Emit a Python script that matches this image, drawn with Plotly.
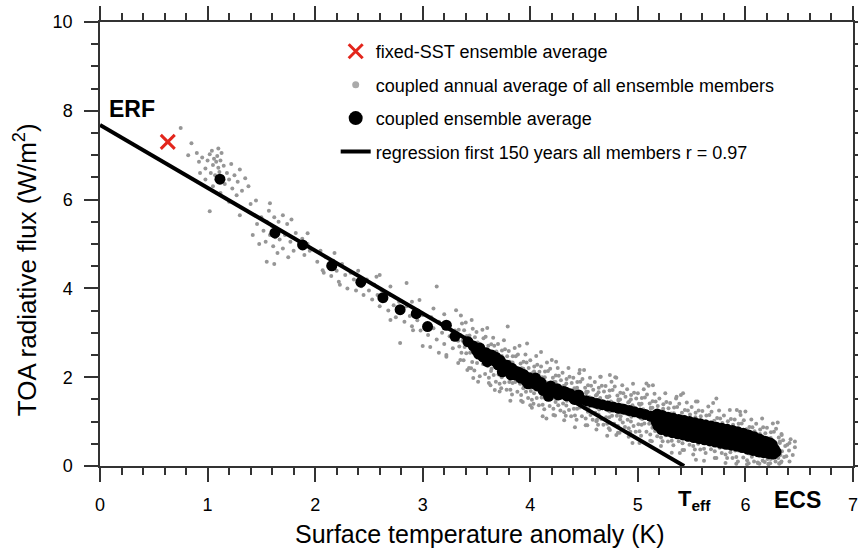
import plotly.graph_objects as go

# ---------------- data ----------------
# fixed-SST ensemble average (red cross)
fixed_x = [0.63]
fixed_y = [7.30]

# regression line, first 150 years (ERF intercept -> T_eff)
reg_x = [0.0, 5.43]
reg_y = [7.68, 0.0]

# coupled ensemble average (black dots)
black_pts = [
    (1.115, 6.46), (1.626, 5.25), (1.884, 4.98), (2.155, 4.51), (2.425, 4.14),
    (2.63, 3.79), (2.79, 3.52), (2.94, 3.43), (3.045, 3.14), (3.22, 3.17),
    (3.30, 2.92), (3.42, 2.80),
    (3.47, 2.70), (3.50, 2.60), (3.53, 2.66), (3.56, 2.46), (3.59, 2.55), (3.62, 2.42),
    (3.64, 2.50), (3.67, 2.36), (3.70, 2.28), (3.72, 2.38), (3.75, 2.22), (3.78, 2.27),
    (3.80, 2.12), (3.83, 2.20), (3.86, 2.05), (3.88, 2.12), (3.91, 1.98), (3.94, 2.06),
    (3.96, 1.92), (3.99, 1.99), (4.02, 1.86), (4.04, 1.94), (4.07, 1.80), (4.10, 1.88),
    (4.13, 1.76), (4.17, 1.57), (4.19, 1.80), (4.22, 1.68), (4.25, 1.74), (4.28, 1.62),
    (4.31, 1.68), (4.34, 1.58), (4.37, 1.63), (4.40, 1.54), (4.43, 1.58), (4.47, 1.50),
    (3.52, 2.52), (3.60, 2.35), (3.68, 2.45), (3.74, 2.12), (3.82, 2.05), (3.90, 2.10),
    (3.98, 1.85), (4.05, 1.98), (4.12, 1.70), (4.20, 1.72), (4.26, 1.60), (4.33, 1.66),
    (4.41, 1.50), (4.45, 1.60),
    (4.52, 1.47), (4.57, 1.44), (4.62, 1.41), (4.67, 1.38), (4.72, 1.35), (4.77, 1.33),
    (4.82, 1.30), (4.87, 1.28), (4.92, 1.25), (4.97, 1.22), (5.02, 1.19), (5.07, 1.16),
    (5.12, 1.12),
    (5.15, 1.12), (5.17, 1.00), (5.185, 0.91), (5.20, 1.09), (5.22, 0.97), (5.235, 0.88),
    (5.25, 1.06), (5.27, 0.94), (5.285, 0.85), (5.30, 1.02), (5.32, 0.90), (5.335, 0.81),
    (5.35, 1.00), (5.37, 0.88), (5.385, 0.79), (5.40, 0.97), (5.42, 0.85), (5.435, 0.76),
    (5.45, 0.95), (5.47, 0.83), (5.485, 0.74), (5.50, 0.92), (5.52, 0.80), (5.535, 0.71),
    (5.55, 0.89), (5.57, 0.77), (5.585, 0.68), (5.60, 0.87), (5.62, 0.75), (5.635, 0.66),
    (5.65, 0.84), (5.67, 0.72), (5.685, 0.63), (5.70, 0.82), (5.72, 0.70), (5.735, 0.61),
    (5.75, 0.80), (5.77, 0.68), (5.785, 0.59), (5.80, 0.77), (5.82, 0.65), (5.835, 0.56),
    (5.85, 0.75), (5.87, 0.63), (5.885, 0.54), (5.90, 0.73), (5.92, 0.61), (5.935, 0.52),
    (5.95, 0.70), (5.97, 0.58), (5.985, 0.49), (6.00, 0.67), (6.02, 0.55), (6.035, 0.46),
    (6.05, 0.63), (6.07, 0.51), (6.085, 0.42), (6.10, 0.60), (6.12, 0.48), (6.135, 0.39),
    (6.15, 0.57), (6.17, 0.45), (6.185, 0.36), (6.20, 0.54), (6.22, 0.42), (6.235, 0.33),
    (6.25, 0.48), (6.27, 0.38), (6.285, 0.32),
    (5.18, 1.17), (5.28, 1.10), (5.38, 1.05), (5.48, 1.00), (5.58, 0.95), (5.68, 0.90),
    (5.78, 0.85), (5.88, 0.80), (5.98, 0.74), (6.08, 0.66), (6.18, 0.56),
    (5.23, 1.135), (5.33, 1.075), (5.43, 1.025), (5.53, 0.975), (5.63, 0.925), (5.73, 0.875),
    (5.83, 0.825), (5.93, 0.77), (6.03, 0.70), (6.13, 0.61), (6.23, 0.52),
    (5.22, 0.82), (5.32, 0.75), (5.42, 0.70), (5.52, 0.64), (5.62, 0.59), (5.72, 0.54),
    (5.82, 0.49), (5.92, 0.45), (6.02, 0.38), (6.12, 0.32), (6.22, 0.28),
    (5.27, 0.785), (5.37, 0.725), (5.47, 0.67), (5.57, 0.615), (5.67, 0.565), (5.77, 0.515),
    (5.87, 0.47), (5.97, 0.415), (6.07, 0.35), (6.17, 0.30), (6.26, 0.27),
]

# coupled annual averages of all ensemble members (grey dots)
gray_pts = [
    # first years
    (0.75, 7.61), (0.82, 7.00), (0.85, 7.27), (0.92, 6.85), (0.95, 6.95), (0.98, 6.70),
    (1.00, 6.88), (1.02, 7.02), (1.03, 6.60), (1.05, 6.78), (1.06, 6.92), (1.07, 6.55),
    (1.08, 6.85), (1.09, 6.98), (1.10, 6.72), (1.11, 6.62), (1.12, 6.88), (1.13, 7.05),
    (1.14, 6.50), (1.15, 6.76), (1.16, 6.35), (1.18, 6.60), (1.20, 6.45), (1.22, 6.80),
    (1.23, 6.25), (1.25, 6.55), (1.27, 6.10), (1.28, 6.40), (1.30, 6.68), (1.32, 6.20),
    (1.35, 6.48), (1.38, 6.30), (1.40, 5.90), (1.05, 6.30), (0.98, 6.45), (1.12, 6.15),
    (1.20, 5.95), (1.02, 5.74), (1.45, 5.98), (1.30, 5.65), (0.93, 6.60), (1.04, 7.10),
    (1.10, 7.15), (0.90, 7.05),
    (1.42, 5.20), (1.46, 5.45), (1.50, 5.60), (1.52, 5.30), (1.54, 5.05), (1.55, 5.50),
    (1.57, 5.75), (1.58, 5.20), (1.60, 5.40), (1.61, 4.95), (1.62, 5.60), (1.63, 5.15),
    (1.64, 5.35), (1.65, 4.80), (1.66, 5.50), (1.67, 5.10), (1.68, 5.30), (1.70, 4.90),
    (1.72, 5.20), (1.74, 5.45), (1.75, 4.70), (1.77, 5.05), (1.80, 4.85), (1.82, 5.25),
    (1.85, 5.00), (1.88, 5.12), (1.90, 4.75), (1.93, 5.00), (1.95, 4.85), (1.55, 4.60),
    (1.62, 4.55), (1.48, 5.00), (1.70, 5.65), (1.78, 5.55), (1.58, 5.92), (1.93, 5.24),
    (2.02, 4.60), (2.05, 4.85), (2.08, 4.35), (2.10, 4.70), (2.12, 4.50), (2.15, 4.28),
    (2.17, 4.62), (2.20, 4.40), (2.22, 4.15), (2.25, 4.55), (2.28, 4.30), (2.30, 4.00),
    (2.33, 4.35), (2.36, 4.20), (2.38, 3.95), (2.40, 4.40), (2.43, 4.05), (2.45, 3.85),
    (2.48, 4.20), (2.50, 3.95), (2.53, 3.75), (2.55, 4.08), (2.58, 3.85), (2.60, 3.60),
    (2.62, 3.95), (2.65, 3.72), (2.68, 3.50), (2.70, 3.85), (2.73, 3.62), (2.75, 3.35),
    (2.78, 3.70), (2.80, 3.45), (2.83, 3.25), (2.85, 3.60), (2.88, 3.38), (2.90, 3.15),
    (2.93, 3.52), (2.95, 3.28), (2.98, 3.05), (3.00, 3.40), (3.03, 3.20), (3.05, 2.95),
    (3.08, 3.35), (3.10, 3.10), (3.13, 2.85), (3.15, 3.25), (3.18, 3.00), (3.20, 2.75),
    (3.23, 3.15), (3.25, 2.92), (3.28, 2.65), (3.30, 3.05), (3.33, 2.82), (3.10, 3.55),
    (2.90, 3.70), (3.20, 3.42), (2.60, 4.30), (3.00, 2.70), (3.15, 2.55), (2.18, 4.80),
    (2.07, 4.41), (2.23, 4.08), (2.57, 4.26), (2.70, 4.04), (2.85, 4.12), (2.70, 3.29),
    (2.79, 2.77), (3.13, 4.04), (2.97, 3.74), (2.91, 3.06), (3.07, 2.68), (3.22, 2.46),
    # dense cloud
    (3.33, 2.32), (3.36, 2.55), (3.34, 2.69), (3.37, 2.82), (3.35, 2.95), (3.335, 3.07), (3.365, 3.21), (3.355, 3.39),
    (3.415, 2.16), (3.38, 2.38), (3.405, 2.54), (3.39, 2.68), (3.42, 2.80), (3.41, 2.93), (3.385, 3.06), (3.40, 3.23),
    (3.43, 2.21), (3.46, 2.34), (3.44, 2.55), (3.47, 2.69), (3.45, 2.81), (3.435, 2.94), (3.465, 3.09), (3.455, 3.29),
    (3.515, 1.90), (3.48, 2.15), (3.505, 2.32), (3.49, 2.52), (3.52, 2.65), (3.51, 2.78), (3.485, 2.90), (3.50, 3.02),
    (3.53, 2.02), (3.56, 2.30), (3.54, 2.40), (3.57, 2.55), (3.55, 2.62), (3.535, 2.74), (3.565, 2.88), (3.555, 3.07),
    (3.615, 1.87), (3.58, 2.07), (3.605, 2.25), (3.59, 2.43), (3.62, 2.59), (3.61, 2.71), (3.585, 2.91), (3.60, 3.11),
    (3.63, 1.82), (3.66, 2.05), (3.64, 2.19), (3.67, 2.32), (3.65, 2.45), (3.635, 2.57), (3.665, 2.71), (3.655, 2.89),
    (3.715, 1.68), (3.68, 1.90), (3.705, 2.06), (3.69, 2.20), (3.72, 2.32), (3.71, 2.45), (3.685, 2.58), (3.70, 2.75),
    (3.73, 1.75), (3.76, 1.88), (3.74, 2.09), (3.77, 2.23), (3.75, 2.35), (3.735, 2.48), (3.765, 2.63), (3.755, 2.83),
    (3.815, 1.47), (3.78, 1.72), (3.805, 1.89), (3.79, 2.09), (3.82, 2.22), (3.81, 2.35), (3.785, 2.47), (3.80, 2.59),
    (3.83, 1.61), (3.86, 1.89), (3.84, 1.99), (3.87, 2.14), (3.85, 2.21), (3.835, 2.33), (3.865, 2.47), (3.855, 2.66),
    (3.915, 1.47), (3.88, 1.67), (3.905, 1.85), (3.89, 2.03), (3.92, 2.19), (3.91, 2.31), (3.885, 2.51), (3.90, 2.71),
    (3.93, 1.44), (3.96, 1.67), (3.94, 1.81), (3.97, 1.94), (3.95, 2.07), (3.935, 2.19), (3.965, 2.33), (3.955, 2.51),
    (4.015, 1.31), (3.98, 1.53), (4.005, 1.69), (3.99, 1.83), (4.02, 1.95), (4.01, 2.08), (3.985, 2.21), (4.00, 2.38),
    (4.03, 1.40), (4.06, 1.53), (4.04, 1.74), (4.07, 1.88), (4.05, 2.00), (4.035, 2.13), (4.065, 2.28), (4.055, 2.48),
    (4.115, 1.12), (4.08, 1.37), (4.105, 1.54), (4.09, 1.74), (4.12, 1.87), (4.11, 2.00), (4.085, 2.12), (4.10, 2.24),
    (4.13, 1.28), (4.16, 1.56), (4.14, 1.66), (4.17, 1.81), (4.15, 1.88), (4.135, 2.00), (4.165, 2.14), (4.155, 2.33),
    (4.215, 1.15), (4.18, 1.35), (4.205, 1.53), (4.19, 1.71), (4.22, 1.87), (4.21, 1.99), (4.185, 2.19), (4.20, 2.39),
    (4.23, 1.14), (4.26, 1.37), (4.24, 1.51), (4.27, 1.64), (4.25, 1.77), (4.235, 1.89), (4.265, 2.03), (4.255, 2.21),
    (4.315, 1.03), (4.28, 1.25), (4.305, 1.41), (4.29, 1.55), (4.32, 1.67), (4.31, 1.80), (4.285, 1.93), (4.30, 2.10),
    (4.33, 1.13), (4.36, 1.26), (4.34, 1.47), (4.37, 1.61), (4.35, 1.73), (4.335, 1.86), (4.365, 2.01), (4.355, 2.21),
    (4.415, 0.87), (4.38, 1.12), (4.405, 1.29), (4.39, 1.49), (4.42, 1.62), (4.41, 1.75), (4.385, 1.87), (4.40, 1.99),
    (4.43, 1.04), (4.46, 1.32), (4.44, 1.42), (4.47, 1.57), (4.45, 1.64), (4.435, 1.76), (4.465, 1.90), (4.455, 2.09),
    (4.515, 0.92), (4.48, 1.12), (4.505, 1.30), (4.49, 1.48), (4.52, 1.64), (4.51, 1.76), (4.485, 1.96), (4.50, 2.16),
    (4.53, 0.92), (4.56, 1.15), (4.54, 1.29), (4.57, 1.42), (4.55, 1.55), (4.535, 1.67), (4.565, 1.81), (4.555, 1.99),
    (4.615, 0.82), (4.58, 1.04), (4.605, 1.20), (4.59, 1.34), (4.62, 1.46), (4.61, 1.59), (4.585, 1.72), (4.60, 1.89),
    (4.63, 0.93), (4.66, 1.06), (4.64, 1.27), (4.67, 1.41), (4.65, 1.53), (4.635, 1.66), (4.665, 1.81), (4.655, 2.01),
    (4.715, 0.68), (4.68, 0.93), (4.705, 1.10), (4.69, 1.30), (4.72, 1.43), (4.71, 1.56), (4.685, 1.68), (4.70, 1.80),
    (4.73, 0.85), (4.76, 1.13), (4.74, 1.23), (4.77, 1.38), (4.75, 1.45), (4.735, 1.57), (4.765, 1.71), (4.755, 1.90),
    (4.815, 0.75), (4.78, 0.95), (4.805, 1.13), (4.79, 1.31), (4.82, 1.47), (4.81, 1.59), (4.785, 1.79), (4.80, 1.99),
    (4.83, 0.75), (4.86, 0.98), (4.84, 1.12), (4.87, 1.25), (4.85, 1.38), (4.835, 1.50), (4.865, 1.64), (4.855, 1.82),
    (4.915, 0.66), (4.88, 0.88), (4.905, 1.04), (4.89, 1.18), (4.92, 1.30), (4.91, 1.43), (4.885, 1.56), (4.90, 1.73),
    (4.93, 0.77), (4.96, 0.90), (4.94, 1.11), (4.97, 1.25), (4.95, 1.37), (4.935, 1.50), (4.965, 1.65), (4.955, 1.85),
    (5.015, 0.52), (4.98, 0.77), (5.005, 0.94), (4.99, 1.14), (5.02, 1.27), (5.01, 1.40), (4.985, 1.52), (5.00, 1.64),
    (5.03, 0.68), (5.06, 0.96), (5.04, 1.06), (5.07, 1.21), (5.05, 1.28), (5.035, 1.40), (5.065, 1.54), (5.055, 1.73),
    (5.115, 0.57), (5.08, 0.77), (5.105, 0.95), (5.09, 1.13), (5.12, 1.29), (5.11, 1.41), (5.085, 1.61), (5.10, 1.81),
    (5.13, 0.56), (5.16, 0.79), (5.14, 0.93), (5.17, 1.06), (5.15, 1.19), (5.135, 1.31), (5.165, 1.45), (5.155, 1.63),
    (5.215, 0.45), (5.18, 0.67), (5.205, 0.83), (5.19, 0.97), (5.22, 1.09), (5.21, 1.22), (5.185, 1.35), (5.20, 1.52),
    (5.23, 0.56), (5.26, 0.69), (5.24, 0.90), (5.27, 1.04), (5.25, 1.16), (5.235, 1.29), (5.265, 1.44), (5.255, 1.64),
    (5.315, 0.30), (5.28, 0.55), (5.305, 0.72), (5.29, 0.92), (5.32, 1.05), (5.31, 1.18), (5.285, 1.30), (5.30, 1.42),
    (5.33, 0.47), (5.36, 0.75), (5.34, 0.85), (5.37, 1.00), (5.35, 1.07), (5.335, 1.19), (5.365, 1.33), (5.355, 1.52),
    (5.415, 0.36), (5.38, 0.56), (5.405, 0.74), (5.39, 0.92), (5.42, 1.08), (5.41, 1.20), (5.385, 1.40), (5.40, 1.60),
    (5.43, 0.36), (5.46, 0.59), (5.44, 0.73), (5.47, 0.86), (5.45, 0.99), (5.435, 1.11), (5.465, 1.25), (5.455, 1.43),
    (5.515, 0.26), (5.48, 0.48), (5.505, 0.64), (5.49, 0.78), (5.52, 0.90), (5.51, 1.03), (5.485, 1.16), (5.50, 1.33),
    (5.53, 0.37), (5.56, 0.50), (5.54, 0.71), (5.57, 0.85), (5.55, 0.97), (5.535, 1.10), (5.565, 1.25), (5.555, 1.45),
    (5.615, 0.12), (5.58, 0.37), (5.605, 0.54), (5.59, 0.74), (5.62, 0.87), (5.61, 1.00), (5.585, 1.12), (5.60, 1.24),
    (5.63, 0.29), (5.66, 0.57), (5.64, 0.67), (5.67, 0.82), (5.65, 0.89), (5.635, 1.01), (5.665, 1.15), (5.655, 1.34),
    (5.715, 0.18), (5.68, 0.38), (5.705, 0.56), (5.69, 0.74), (5.72, 0.90), (5.71, 1.02), (5.685, 1.22), (5.70, 1.42),
    (5.73, 0.18), (5.76, 0.41), (5.74, 0.55), (5.77, 0.68), (5.75, 0.81), (5.735, 0.93), (5.765, 1.07), (5.755, 1.25),
    (5.815, 0.07), (5.78, 0.29), (5.805, 0.45), (5.79, 0.59), (5.82, 0.71), (5.81, 0.84), (5.785, 0.97), (5.80, 1.14),
    (5.83, 0.18), (5.86, 0.31), (5.84, 0.52), (5.87, 0.66), (5.85, 0.78), (5.835, 0.91), (5.865, 1.06), (5.855, 1.26),
    (5.915, 0.05), (5.88, 0.18), (5.905, 0.35), (5.89, 0.55), (5.92, 0.68), (5.91, 0.81), (5.885, 0.93), (5.90, 1.05),
    (5.93, 0.10), (5.96, 0.38), (5.94, 0.48), (5.97, 0.63), (5.95, 0.70), (5.935, 0.82), (5.965, 0.96), (5.955, 1.15),
    (6.015, 0.04), (5.98, 0.19), (6.005, 0.37), (5.99, 0.55), (6.02, 0.71), (6.01, 0.83), (5.985, 1.03), (6.00, 1.23),
    (6.03, 0.06), (6.06, 0.21), (6.04, 0.35), (6.07, 0.48), (6.05, 0.61), (6.035, 0.73), (6.065, 0.87), (6.055, 1.05),
    (6.115, 0.08), (6.08, 0.10), (6.105, 0.26), (6.09, 0.40), (6.12, 0.52), (6.11, 0.65), (6.085, 0.78), (6.10, 0.95),
    (6.13, 0.05), (6.16, 0.12), (6.14, 0.33), (6.17, 0.47), (6.15, 0.59), (6.135, 0.72), (6.165, 0.87), (6.155, 1.07),
    (6.215, 0.04), (6.18, 0.09), (6.205, 0.16), (6.19, 0.36), (6.22, 0.49), (6.21, 0.62), (6.185, 0.74), (6.20, 0.86),
    (6.23, 0.06), (6.26, 0.19), (6.24, 0.29), (6.27, 0.44), (6.25, 0.51), (6.235, 0.63), (6.265, 0.77), (6.255, 0.96),
    (6.315, 0.05), (6.28, 0.10), (6.305, 0.18), (6.29, 0.36), (6.32, 0.52), (6.31, 0.64), (6.285, 0.84), (6.30, 0.98),
    (6.33, 0.08), (6.36, 0.20), (6.34, 0.33), (6.37, 0.45), (6.35, 0.58), (6.335, 0.72),
    (6.41, 0.10), (6.38, 0.22), (6.405, 0.35), (6.39, 0.48), (6.42, 0.60),
    (6.44, 0.25), (6.46, 0.42), (6.41, 0.52), (6.46, 0.55),
    # extra points in the core of the cloud
    (3.615, 1.99), (3.635, 2.14), (3.625, 2.29), (3.62, 2.59), (3.637, 2.74),
    (3.715, 1.85), (3.735, 2.00), (3.725, 2.15), (3.72, 2.45), (3.737, 2.60),
    (3.815, 1.72), (3.835, 1.87), (3.825, 2.02), (3.82, 2.32), (3.837, 2.47),
    (3.915, 1.60), (3.935, 1.75), (3.925, 1.90), (3.92, 2.20), (3.937, 2.35),
    (4.015, 1.49), (4.035, 1.64), (4.025, 1.79), (4.02, 2.09), (4.037, 2.24),
    (4.115, 1.38), (4.135, 1.53), (4.125, 1.68), (4.12, 1.98), (4.137, 2.13),
    (4.215, 1.29), (4.235, 1.44), (4.225, 1.59), (4.22, 1.89), (4.237, 2.04),
    (4.315, 1.21), (4.335, 1.36), (4.325, 1.51), (4.32, 1.81), (4.337, 1.96),
    (4.415, 1.14), (4.435, 1.29), (4.425, 1.44), (4.42, 1.74), (4.437, 1.89),
    (4.515, 1.07), (4.535, 1.22), (4.525, 1.37), (4.52, 1.67), (4.537, 1.82),
    (4.615, 1.01), (4.635, 1.16), (4.625, 1.31), (4.62, 1.61), (4.637, 1.76),
    (4.715, 0.95), (4.735, 1.10), (4.725, 1.25), (4.72, 1.55), (4.737, 1.70),
    (4.815, 0.90), (4.835, 1.05), (4.825, 1.20), (4.82, 1.50), (4.837, 1.65),
    (4.915, 0.85), (4.935, 1.00), (4.925, 1.15), (4.92, 1.45), (4.937, 1.60),
    (5.015, 0.78), (5.035, 0.93), (5.025, 1.08), (5.02, 1.38), (5.037, 1.53),
    (5.115, 0.71), (5.135, 0.86), (5.125, 1.01), (5.12, 1.31), (5.137, 1.46),
    (5.215, 0.64), (5.235, 0.79), (5.225, 0.94), (5.22, 1.24), (5.237, 1.39),
    (5.315, 0.57), (5.335, 0.72), (5.325, 0.87), (5.32, 1.17), (5.337, 1.32),
    (5.415, 0.51), (5.435, 0.66), (5.425, 0.81), (5.42, 1.11), (5.437, 1.26),
    (5.515, 0.45), (5.535, 0.60), (5.525, 0.75), (5.52, 1.05), (5.537, 1.20),
    (5.615, 0.39), (5.635, 0.54), (5.625, 0.69), (5.62, 0.99), (5.637, 1.14),
    (5.715, 0.33), (5.735, 0.48), (5.725, 0.63), (5.72, 0.93), (5.737, 1.08),
    (5.815, 0.26), (5.835, 0.41), (5.825, 0.56), (5.82, 0.86), (5.837, 1.01),
    (5.915, 0.20), (5.935, 0.35), (5.925, 0.50), (5.92, 0.80), (5.937, 0.95),
    (6.015, 0.13), (6.035, 0.28), (6.025, 0.43), (6.02, 0.73), (6.037, 0.88),
    (6.115, 0.07), (6.135, 0.22), (6.125, 0.37), (6.12, 0.67), (6.137, 0.82),
    (6.215, 0.05), (6.235, 0.16), (6.225, 0.31), (6.22, 0.61), (6.237, 0.76),
    (6.315, 0.06), (6.335, 0.10), (6.325, 0.25), (6.32, 0.55), (6.337, 0.70),
    # scattered outliers
    (4.74, 2.05), (4.79, 2.00), (5.08, 1.86), (5.14, 1.82), (5.42, 1.64), (5.54, 1.45),
    (5.73, 1.52), (5.92, 1.26), (4.74, 0.81), (4.95, 0.52), (5.39, 0.29), (5.54, 0.14),
    (3.31, 3.51), (3.79, 3.14), (3.97, 2.76), (4.10, 2.57), (4.24, 2.35), (3.22, 2.50),
    (3.35, 2.39), (3.45, 2.20), (3.47, 1.98), (3.67, 1.71), (4.00, 1.37), (4.15, 1.07),
    (4.46, 2.16), (4.65, 2.01), (5.36, 1.56), (5.95, 1.22), (4.62, 1.04), (4.80, 0.70),
]

black_x = [p[0] for p in black_pts]
black_y = [p[1] for p in black_pts]
gray_x = [p[0] for p in gray_pts]
gray_y = [p[1] for p in gray_pts]

# ---------------- figure ----------------
FONT = "Liberation Sans, Arial, Helvetica, sans-serif"
AX = "#333333"
GRAY = "#969696"
RED = "#e3261c"

fig = go.Figure()
fig.add_trace(go.Scatter(x=gray_x, y=gray_y, mode="markers",
                         marker=dict(size=4, color=GRAY, line=dict(width=0)),
                         showlegend=False, hoverinfo="skip"))
fig.add_trace(go.Scatter(x=black_x, y=black_y, mode="markers",
                         marker=dict(size=11, color="black", line=dict(width=0)),
                         showlegend=False))
fig.add_trace(go.Scatter(x=reg_x, y=reg_y, mode="lines",
                         line=dict(color="black", width=4), showlegend=False))
fig.add_trace(go.Scatter(x=fixed_x, y=fixed_y, mode="markers",
                         marker=dict(symbol="x-thin", size=14, color=RED,
                                     line=dict(color=RED, width=3)),
                         showlegend=False))

# legend entries
fig.add_trace(go.Scatter(x=[None], y=[None], mode="markers", name="fixed-SST ensemble average",
                         marker=dict(symbol="x-thin", size=14, color=RED, line=dict(color=RED, width=3)),
                         legendgroup="a", legendrank=1))
fig.add_trace(go.Scatter(x=[None], y=[None], mode="markers",
                         name="coupled annual average of all ensemble members",
                         marker=dict(size=7, color="#aaaaaa"), legendgroup="b", legendrank=2))
fig.add_trace(go.Scatter(x=[None], y=[None], mode="markers", name="coupled ensemble average",
                         marker=dict(size=14, color="black"), legendgroup="c", legendrank=3))
fig.add_trace(go.Scatter(x=[None], y=[None], mode="lines",
                         name="regression first 150 years all members r = 0.97",
                         line=dict(color="black", width=4), legendgroup="d", legendrank=4))

axis_common = dict(
    showgrid=False, zeroline=False, showline=True, linecolor=AX, linewidth=1.5,
    mirror="ticks", ticks="outside", ticklen=14, tickwidth=1.5, tickcolor=AX,
    tickfont=dict(size=18, color="black", family=FONT), ticklabelstandoff=8,
    automargin=False, ticklabeloverflow="allow",
)
fig.update_xaxes(range=[0, 7], tickmode="linear", tick0=0, dtick=1,
                 minor=dict(dtick=0.2, ticks="outside", ticklen=7, tickwidth=1.5,
                            tickcolor=AX, showgrid=False),
                 **axis_common)
fig.update_yaxes(range=[0, 10], tickmode="linear", tick0=0, dtick=2,
                 minor=dict(dtick=0.5, ticks="outside", ticklen=7, tickwidth=1.5,
                            tickcolor=AX, showgrid=False),
                 **axis_common)

fig.update_layout(
    width=858, height=548,
    margin=dict(l=100, r=5, t=22, b=82, autoexpand=False),
    plot_bgcolor="white", paper_bgcolor="white",
    font=dict(family=FONT, size=18, color="black"),
    legend=dict(x=0.313, y=0.975, xanchor="left", yanchor="top",
                bgcolor="rgba(0,0,0,0)", font=dict(size=18, family=FONT),
                tracegroupgap=7, itemsizing="trace"),
    annotations=[
        dict(text="<b>ERF</b>", x=0.30, y=8.05, xref="x", yref="y", showarrow=False,
             font=dict(size=23, family=FONT), xanchor="center", yanchor="middle"),
        dict(text="<b>T<sub>eff</sub></b>", x=5.53, y=-0.077, xref="x", yref="paper",
             showarrow=False, font=dict(size=22, family=FONT), xanchor="center", yanchor="middle"),
        dict(text="<b>ECS</b>", x=6.48, y=-0.077, xref="x", yref="paper",
             showarrow=False, font=dict(size=23, family=FONT), xanchor="center", yanchor="middle"),
        dict(text="Surface temperature anomaly (K)", x=0.505, y=-0.153, xref="paper", yref="paper",
             showarrow=False, font=dict(size=25, family=FONT), xanchor="center", yanchor="middle"),
        dict(text="TOA radiative flux (W/m<sup>2</sup>)", x=-0.0996, y=0.441, xref="paper",
             yref="paper", showarrow=False, textangle=-90,
             font=dict(size=26, family=FONT), xanchor="center", yanchor="middle"),
    ],
)

fig.write_html("out.html", config={"displayModeBar": False},
               post_script="document.body.style.margin='0';document.body.style.overflow='hidden';")
